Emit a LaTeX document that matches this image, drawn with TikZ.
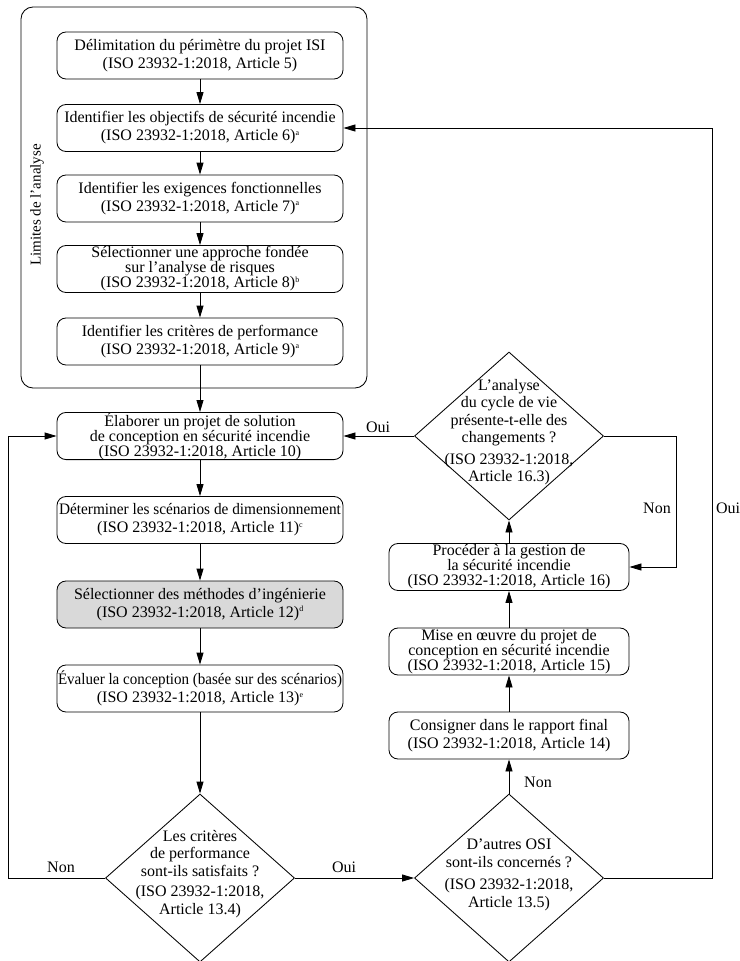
\documentclass[tikz,border=0pt]{standalone}
\usepackage{fontspec}
\usepackage{graphicx}
\setmainfont{Liberation Serif}
\usetikzlibrary{arrows.meta,shapes.geometric}
\newcommand\supnote[1]{\raisebox{5.5pt}{\fontsize{8pt}{8pt}\selectfont #1}}
\tikzset{
  every picture/.style={line width=0.85pt},
  boxA/.style={draw, rectangle, rounded corners=9pt, minimum width=286pt, minimum height=47pt,
    inner sep=0pt, align=center, font=\fontsize{16pt}{18pt}\selectfont},
  boxB/.style={boxA, font=\fontsize{16pt}{15pt}\selectfont},
  boxR/.style={boxA, minimum width=240pt},
  boxRB/.style={boxB, minimum width=240pt},
  grayfill/.style={fill=black!15},
  dia/.style={draw, diamond, minimum width=189pt, minimum height=168pt, inner sep=0pt},
  diatext/.style={align=center, inner sep=0pt, font=\fontsize{16pt}{17.5pt}\selectfont},
  lbl/.style={inner sep=0pt, font=\fontsize{16pt}{18pt}\selectfont},
  arr/.style={-{Triangle[length=12pt,width=7pt]}},
  frame/.style={draw, rectangle, rounded corners=12pt, minimum width=346pt, minimum height=381pt, inner sep=0pt}
}
\begin{document}
\begin{tikzpicture}[x=1pt,y=-1pt]
\useasboundingbox (0,0) rectangle (739,961);
% frame
\node[frame] (frame) at (194,197.5) {};
\node[lbl, rotate=90, font=\fontsize{15pt}{17pt}\selectfont] (lim) at (37,205) {Limites de l’analyse};
% left column boxes
\node[boxA] (b1) at (200,55.5) {Délimitation du périmètre du projet ISI\\(ISO 23932-1:2018, Article 5)};
\node[boxA] (b2) at (200,128) {Identifier les objectifs de sécurité incendie\\(ISO 23932-1:2018, Article 6)\supnote{a}};
\node[boxA] (b3) at (200,198.5) {Identifier les exigences fonctionnelles\\(ISO 23932-1:2018, Article 7)\supnote{a}};
\node[boxB] (b4) at (200,269) {Sélectionner une approche fondée\\sur l’analyse de risques\\(ISO 23932-1:2018, Article 8)\supnote{b}};
\node[boxA] (b5) at (200,341.5) {Identifier les critères de performance\\(ISO 23932-1:2018, Article 9)\supnote{a}};
\node[boxB] (b6) at (200,436) {Élaborer un projet de solution\\de conception en sécurité incendie\\(ISO 23932-1:2018, Article 10)};
\node[boxA] (b7) at (200,520) {\scalebox{0.955}[1]{Déterminer les scénarios de dimensionnement}\\(ISO 23932-1:2018, Article 11)\supnote{c}};
\node[boxA, grayfill] (b8) at (200,604.5) {Sélectionner des méthodes d’ingénierie\\(ISO 23932-1:2018, Article 12)\supnote{d}};
\node[boxA] (b9) at (200,688.5) {\scalebox{0.94}[1]{Évaluer la conception (basée sur des scénarios)}\\(ISO 23932-1:2018, Article 13)\supnote{e}};
% right column boxes
\node[boxR] (b14) at (509,735.5) {Consigner dans le rapport final\\(ISO 23932-1:2018, Article 14)};
\node[boxRB] (b15) at (509,651.5) {Mise en œuvre du projet de\\conception en sécurité incendie\\(ISO 23932-1:2018, Article 15)};
\node[boxRB] (b16) at (509,567) {Procéder à la gestion de\\la sécurité incendie\\(ISO 23932-1:2018, Article 16)};
% diamonds
\node[dia] (d1) at (200,878) {};
\node[diatext] (t1) at (200,874) {Les critères\\de performance\\sont-ils satisfaits ?\\[3pt](ISO 23932-1:2018,\\Article 13.4)};
\node[dia] (d2) at (509,878) {};
\node[diatext] (t2) at (509,875) {D’autres OSI\\sont-ils concernés ?\\[5pt](ISO 23932-1:2018,\\Article 13.5)};
\node[dia] (d3) at (509,436) {};
\node[diatext] (t3) at (509,432) {L’analyse\\du cycle de vie\\présente-t-elle des\\changements ?\\[4pt](ISO 23932-1:2018,\\Article 16.3)};
% corner coordinates
\coordinate (cL1) at (8,878);
\coordinate (cL2) at (8,436);
\coordinate (cN1) at (676,436);
\coordinate (cN2) at (676,567);
\coordinate (cO1) at (712,878);
\coordinate (cO2) at (712,128);
% connectors
\draw[arr] (b1) -- (b2);
\draw[arr] (b2) -- (b3);
\draw[arr] (b3) -- (b4);
\draw[arr] (b4) -- (b5);
\draw[arr] (b5) -- (b6);
\draw[arr] (b6) -- (b7);
\draw[arr] (b7) -- (b8);
\draw[arr] (b8) -- (b9);
\draw[arr] (b9) -- (d1.north);
\draw[arr] (d1.west) -- (cL1) -- (cL2) -- (b6.west);
\draw[arr] (d1.east) -- (d2.west);
\draw[arr] (d2.north) -- (b14);
\draw[arr] (b14) -- (b15);
\draw[arr] (b15) -- (b16);
\draw[arr] (b16) -- (d3.south);
\draw[arr] (d3.west) -- (b6.east);
\draw[arr] (d3.east) -- (cN1) -- (cN2) -- (b16.east);
\draw[arr] (d2.east) -- (cO1) -- (cO2) -- (b2.east);
% labels
\node[lbl] (lnon1) at (61,867) {Non};
\node[lbl] (loui1) at (344,867) {Oui};
\node[lbl] (lnon2) at (538,782) {Non};
\node[lbl] (loui2) at (378,427) {Oui};
\node[lbl] (lnon3) at (657,508) {Non};
\node[lbl] (loui3) at (728,508) {Oui};
\end{tikzpicture}
\end{document}
